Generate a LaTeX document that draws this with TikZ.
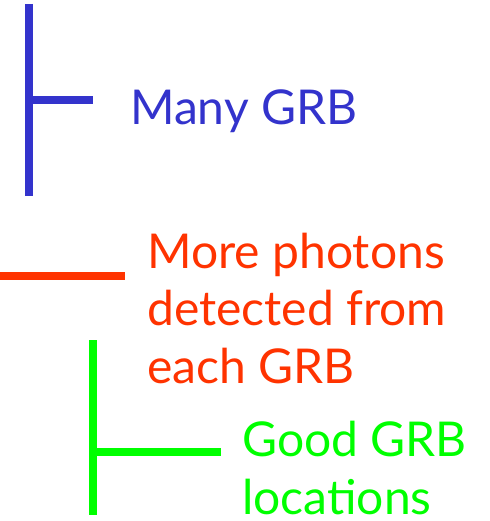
\documentclass[tikz,border=0pt]{standalone}
\usepackage{fontspec}
\setmainfont{Lato}
\definecolor{grbblue}{RGB}{51,51,204}
\definecolor{grbred}{RGB}{255,51,0}
\definecolor{grbgreen}{RGB}{0,255,0}
\tikzset{
  bar/.style={line width=8pt, line cap=butt},
  lbl/.style={inner sep=0pt, anchor=base west, align=left,
    font=\fontsize{48}{57.5}\selectfont},
}
\begin{document}
\begin{tikzpicture}[x=1pt,y=-1pt]
\useasboundingbox (0,0) rectangle (489,521);
% blue
\coordinate (b1) at (29,4);
\coordinate (b2) at (29,196);
\coordinate (bm) at (29,100);
\coordinate (be) at (93,100);
\draw[bar,grbblue] (b1) -- (b2);
\draw[bar,grbblue] (bm) -- (be);
\node[lbl,text=grbblue] (many) at (130,125) {Many GRB};
% red
\coordinate (r1) at (0,276);
\coordinate (r2) at (125,276);
\draw[bar,grbred] (r1) -- (r2);
\node[lbl,text=grbred] (more) at (147,383) {More photons\\detected from\\each GRB};
% green
\coordinate (g1) at (93,340);
\coordinate (g2) at (93,515);
\coordinate (gm) at (93,452);
\coordinate (ge) at (221,452);
\draw[bar,grbgreen] (g1) -- (g2);
\draw[bar,grbgreen] (gm) -- (ge);
\node[lbl,text=grbgreen] (good) at (242,514) {Good GRB\\locations};
\end{tikzpicture}
\end{document}
